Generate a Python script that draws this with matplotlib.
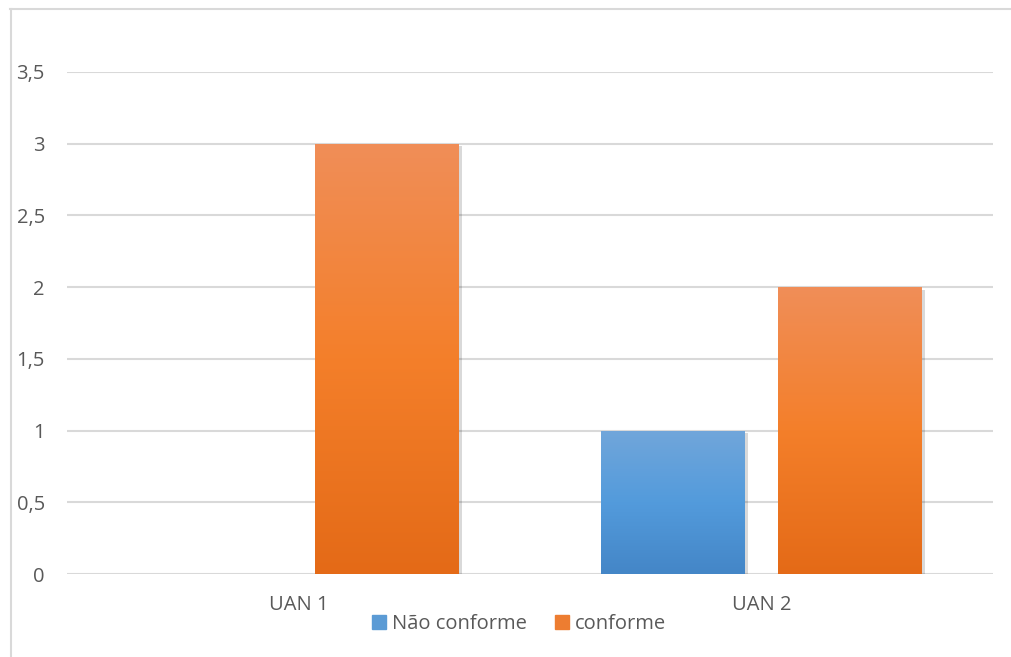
import numpy as np
import matplotlib
matplotlib.use('Agg')
import matplotlib.pyplot as plt
from matplotlib.colors import LinearSegmentedColormap
from matplotlib.lines import Line2D
from matplotlib.ticker import FuncFormatter, MultipleLocator
import matplotlib.patheffects as pe

# dados
unidades = ['UAN 1', 'UAN 2']
nao_conforme = [0, 1]
conforme = [3, 2]
series = ['Não conforme', 'conforme']

plt.rcParams['font.family'] = ['Open Sans', 'DejaVu Sans']

cor_texto = '#595959'
cor_grade = '#D9D9D9'
gradientes = {
    'Não conforme': ['#4486C7', '#539BDC', '#71A6DA'],
    'conforme': ['#E46A17', '#F47F2A', '#F08E58'],
}
cores_legenda = {'Não conforme': '#5B9BD5', 'conforme': '#ED7D31'}

fig = plt.figure(figsize=(10.11, 6.57), dpi=100)
W, H = 1011, 657
ax = fig.add_axes([67 / W, 1 - 574 / H, (993 - 67) / W, (574 - 72) / H])

x = np.arange(len(unidades))
largura = 0.311
desloc = 0.1916

barras = {}
barras['Não conforme'] = ax.bar(x - desloc, nao_conforme, largura, color=cores_legenda['Não conforme'],
                                 label='Não conforme', zorder=3)
barras['conforme'] = ax.bar(x + desloc, conforme, largura, color=cores_legenda['conforme'],
                             label='conforme', zorder=3)

# degradê vertical + sombra leve em cada barra
sombra = [pe.SimplePatchShadow(offset=(2, -2), shadow_rgbFace='#000000', alpha=0.15), pe.Normal()]
for nome, grupo in barras.items():
    cmap = LinearSegmentedColormap.from_list(nome, gradientes[nome])
    for ret in grupo:
        h = ret.get_height()
        if h <= 0:
            ret.set_visible(False)
            continue
        ret.set_path_effects(sombra)
        x0 = ret.get_x()
        img = ax.imshow(np.linspace(0, 1, 256).reshape(-1, 1), cmap=cmap, origin='lower',
                        extent=[x0, x0 + ret.get_width(), 0, h], aspect='auto', zorder=4)
        img.set_clip_path(ret)

ax.set_xlim(-0.5, len(unidades) - 0.5)
ax.set_ylim(0, 3.5)
ax.yaxis.set_major_locator(MultipleLocator(0.5))
ax.yaxis.set_major_formatter(FuncFormatter(lambda v, p: f'{v:g}'.replace('.', ',')))
ax.set_xticks(x)
ax.set_xticklabels(unidades)
ax.grid(axis='y', color=cor_grade, linewidth=1.5, zorder=0)
ax.set_axisbelow(True)
for s in ax.spines.values():
    s.set_visible(False)
ax.tick_params(axis='both', length=0, labelsize=14.5, colors=cor_texto)
ax.tick_params(axis='y', pad=16)
ax.tick_params(axis='x', pad=15)

handles = [plt.Rectangle((0, 0), 1, 1, color=cores_legenda[s]) for s in series]
fig.legend(handles, series, loc='center', bbox_to_anchor=(519 / W, 1 - 624 / H), ncol=2,
           frameon=False, fontsize=14.5, labelcolor=cor_texto, handlelength=0.7, handleheight=0.7,
           handletextpad=0.3, columnspacing=1.4)

# moldura do gráfico
fig.add_artist(Line2D([10 / W, 1], [1 - 8.5 / H] * 2, transform=fig.transFigure, color=cor_grade, lw=1.5))
fig.add_artist(Line2D([10.5 / W] * 2, [0, 1 - 8.5 / H], transform=fig.transFigure, color=cor_grade, lw=1.5))

fig.savefig('out.png', dpi=100)
